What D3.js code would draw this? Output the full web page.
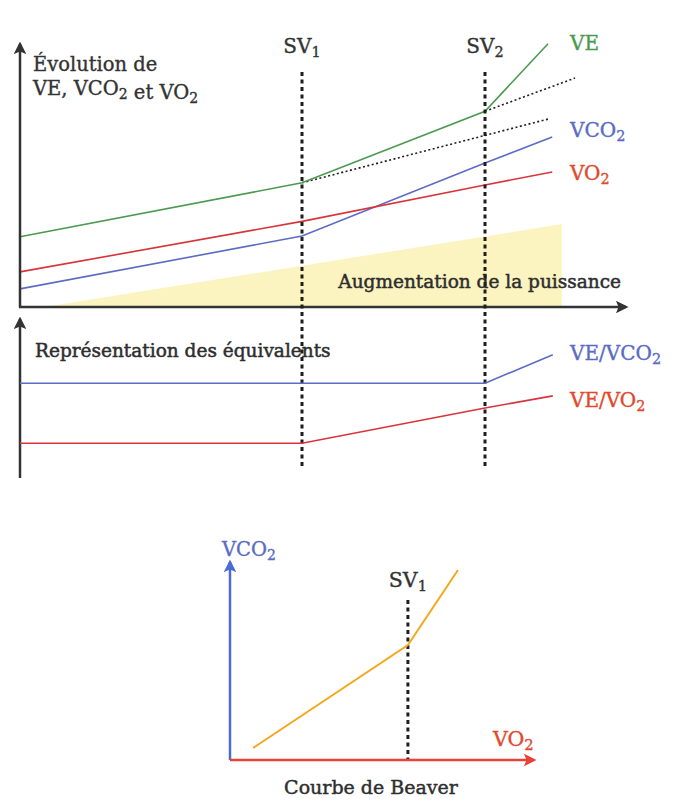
<!DOCTYPE html>
<html><head><meta charset="utf-8">
<script src="https://cdn.jsdelivr.net/npm/d3@7"></script>
<style>
html,body{margin:0;padding:0;background:#fff;}
svg{display:block;font-family:"DejaVu Serif","Liberation Serif",serif;}
</style></head>
<body>
<svg id="c" width="680" height="805"></svg>
<script>
// ---------- DATA (power axis 0-100, responses 0-100) ----------
const thresholds = [{name:"SV", sub:"1", x:47}, {name:"SV", sub:"2", x:77.5}];
const veData   = [[0,26],[47,46],[77.5,72.5],[88,97.5]];
const vco2Data = [[0,6.7],[47,26.3],[77.5,53.3],[88.7,63]];
const vo2Data  = [[0,13],[47,31.7],[77.5,45.2],[88.7,50]];
const veExtra1 = [[47,46],[88,69.6]];
const veExtra2 = [[77.5,72.5],[92.5,84.8]];
const powerArea = [[4,0],[90.3,30.7],[90.3,0]];
const eqVco2 = [[0,60],[77.5,60],[88.8,78]];
const eqVo2  = [[0,22],[47,22],[77.5,44.3],[88.8,52]];
const beaverData = [[7.7,6],[59.3,57.5],[76,95]];
const beaverSV1 = 59.3;

const C = {green:"#4c9a50", blue:"#5b6cc4", red:"#d8343a", redLbl:"#e2492c", orange:"#f3a81e",
           yellow:"#fbf4c0", ink:"#333333", dot:"#1e1e1e"};

const svg = d3.select("#c");
const defs = svg.append("defs");
function marker(id, color){
  defs.append("marker").attr("id",id).attr("viewBox","0 0 10 10").attr("refX",8).attr("refY",5)
    .attr("markerWidth",5).attr("markerHeight",5).attr("orient","auto-start-reverse")
    .append("path").attr("d","M0,0 L10,5 L0,10 L2,5 Z").attr("fill",color);
}
marker("aInk",C.ink); marker("aBlue","#4a6ad6"); marker("aRed","#e8413a");

function label(g, x, y, parts, opts){
  const t = g.append("text").attr("x",x).attr("y",y)
     .attr("font-size",opts.size).attr("fill",opts.color).attr("text-anchor",opts.anchor||"start")
     .attr("stroke",opts.color).attr("stroke-width",opts.bold||0.35);
  parts.forEach(p=>{
    if(typeof p==="string") t.append("tspan").text(p);
    else { t.append("tspan").attr("font-size",opts.size*0.72).attr("dy",opts.size*0.2).text(p.sub);
           t.append("tspan").attr("dy",-opts.size*0.2).text(""); }
  });
  return t;
}

// ---------- TOP PANEL ----------
const x = d3.scaleLinear().domain([0,100]).range([20,620]);
const yT = d3.scaleLinear().domain([0,100]).range([307,37]);
const yM = d3.scaleLinear().domain([0,100]).range([478,320]);
const lineT = d3.line().x(d=>x(d[0])).y(d=>yT(d[1]));
const lineM = d3.line().x(d=>x(d[0])).y(d=>yM(d[1]));

const gTop = svg.append("g");
gTop.append("path").attr("d", lineT(powerArea)+"Z").attr("fill",C.yellow);

// threshold dotted verticals (span both panels)
thresholds.forEach(t=>{
  svg.append("line").attr("x1",x(t.x)).attr("x2",x(t.x)).attr("y1",72).attr("y2",467)
    .attr("stroke",C.dot).attr("stroke-width",3).attr("stroke-dasharray","4,3.5");
  label(svg, x(t.x), 53, [t.name,{sub:t.sub}], {size:20, color:C.ink, anchor:"middle"});
});

[veExtra1, veExtra2].forEach(d=>gTop.append("path").attr("d",lineT(d)).attr("fill","none")
   .attr("stroke",C.dot).attr("stroke-width",1.6).attr("stroke-dasharray","2,2.5"));
gTop.append("path").attr("d",lineT(veData)).attr("fill","none").attr("stroke",C.green).attr("stroke-width",1.6);
gTop.append("path").attr("d",lineT(vco2Data)).attr("fill","none").attr("stroke",C.blue).attr("stroke-width",1.6);
gTop.append("path").attr("d",lineT(vo2Data)).attr("fill","none").attr("stroke",C.red).attr("stroke-width",1.6);

// axes
gTop.append("line").attr("x1",x(0)).attr("y1",yT(0)).attr("x2",x(0)).attr("y2",44)
  .attr("stroke",C.ink).attr("stroke-width",2.5).attr("marker-end","url(#aInk)");
gTop.append("line").attr("x1",x(0)-1).attr("y1",yT(0)).attr("x2",626).attr("y2",yT(0))
  .attr("stroke",C.ink).attr("stroke-width",2.5).attr("marker-end","url(#aInk)");

label(gTop, 33, 71, ["Évolution de"], {size:19.5, color:C.ink});
label(gTop, 33, 95, ["VE, VCO",{sub:"2"}," et VO",{sub:"2"}], {size:19.5, color:C.ink});
label(gTop, 621, 288, ["Augmentation de la puissance"], {size:18.5, color:"#2e2e2e", anchor:"end", bold:0.5});
label(gTop, 570, 50, ["VE"], {size:20, color:C.green});
label(gTop, 570, 137, ["VCO",{sub:"2"}], {size:20, color:C.blue});
label(gTop, 570, 180, ["VO",{sub:"2"}], {size:20, color:C.redLbl});

// ---------- MIDDLE PANEL ----------
const gMid = svg.append("g");
gMid.append("line").attr("x1",x(0)).attr("y1",yM(0)).attr("x2",x(0)).attr("y2",319)
  .attr("stroke",C.ink).attr("stroke-width",2.5).attr("marker-end","url(#aInk)");
gMid.append("path").attr("d",lineM(eqVco2)).attr("fill","none").attr("stroke",C.blue).attr("stroke-width",1.6);
gMid.append("path").attr("d",lineM(eqVo2)).attr("fill","none").attr("stroke",C.red).attr("stroke-width",1.6);
label(gMid, 35, 357, ["Représentation des équivalents"], {size:18.5, color:"#2e2e2e", bold:0.5});
label(gMid, 570, 360, ["VE/VCO",{sub:"2"}], {size:20, color:C.blue});
label(gMid, 570, 407, ["VE/VO",{sub:"2"}], {size:20, color:C.redLbl});

// ---------- BEAVER PANEL ----------
const xb = d3.scaleLinear().domain([0,100]).range([230,530]);
const yb = d3.scaleLinear().domain([0,100]).range([760,560]);
const lineB = d3.line().x(d=>xb(d[0])).y(d=>yb(d[1]));
const gBv = svg.append("g");
gBv.append("line").attr("x1",xb(beaverSV1)).attr("x2",xb(beaverSV1)).attr("y1",yb(80)).attr("y2",yb(0))
  .attr("stroke",C.dot).attr("stroke-width",3).attr("stroke-dasharray","4,3.5");
gBv.append("path").attr("d",lineB(beaverData)).attr("fill","none").attr("stroke",C.orange).attr("stroke-width",2);
gBv.append("line").attr("x1",xb(0)).attr("y1",yb(0)).attr("x2",xb(0)).attr("y2",562)
  .attr("stroke","#4a6ad6").attr("stroke-width",2.5).attr("marker-end","url(#aBlue)");
gBv.append("line").attr("x1",xb(0)).attr("y1",yb(0)).attr("x2",534).attr("y2",yb(0))
  .attr("stroke","#e8413a").attr("stroke-width",2.5).attr("marker-end","url(#aRed)");
label(gBv, 222, 556, ["VCO",{sub:"2"}], {size:19.5, color:C.blue});
label(gBv, 493, 746, ["VO",{sub:"2"}], {size:20.5, color:C.redLbl});
label(gBv, xb(beaverSV1), 587, ["SV",{sub:"1"}], {size:20.5, color:C.ink, anchor:"middle"});
label(gBv, 371, 794, ["Courbe de Beaver"], {size:19, color:"#2e2e2e", anchor:"middle", bold:0.45});
</script>
</body></html>
